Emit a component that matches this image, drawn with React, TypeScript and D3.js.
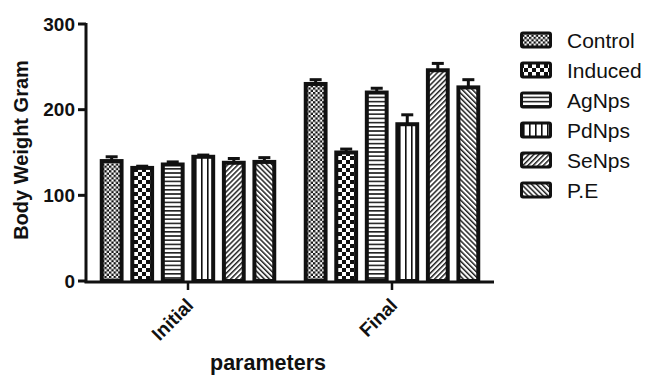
import React from 'react';
import * as d3 from 'd3';

const groups = ['Initial', 'Final'];
const series = ['Control', 'Induced', 'AgNps', 'PdNps', 'SeNps', 'P.E'];
const initialMeans = [140, 132, 136, 145, 138, 139];
const initialErrors = [5, 2, 3, 2, 5, 5];
const finalMeans = [230, 150, 220, 183, 246, 226];
const finalErrors = [5, 4, 5, 11, 8, 9];
const yTicks = [0, 100, 200, 300];
const patternIds = ['pControl', 'pInduced', 'pAg', 'pPd', 'pSe', 'pPE'];

const W = 649;
const H = 376;
const FONT = "'Liberation Sans', Arial, Helvetica, sans-serif";

export default function App() {
  const y = d3.scaleLinear().domain([0, 300]).range([281, 24]);
  const x0 = d3.scaleBand<string>().domain(groups).range([86, 494]);
  const x1 = d3
    .scaleBand<string>()
    .domain(series)
    .range([0, x0.bandwidth()])
    .paddingInner(0.22)
    .paddingOuter(0.45);

  const data = groups.map((g, gi) => ({
    group: g,
    means: gi === 0 ? initialMeans : finalMeans,
    errors: gi === 0 ? initialErrors : finalErrors,
  }));

  const bw = x1.bandwidth();
  const sw = 4;

  return (
    <svg
      width={W}
      height={H}
      style={{ position: 'absolute', left: 0, top: 0, background: '#fff' }}
      fontFamily={FONT}
    >
      <defs>
        <pattern id="pControl" patternUnits="userSpaceOnUse" width={4.6} height={4.6}>
          <rect width={4.6} height={4.6} fill="#fff" />
          <rect width={2.3} height={2.3} fill="#111" />
          <rect x={2.3} y={2.3} width={2.3} height={2.3} fill="#111" />
        </pattern>
        <pattern id="pInduced" patternUnits="userSpaceOnUse" width={8} height={8}>
          <rect width={8} height={8} fill="#fff" />
          <rect width={4} height={4} fill="#111" />
          <rect x={4} y={4} width={4} height={4} fill="#111" />
        </pattern>
        <pattern id="pAg" patternUnits="userSpaceOnUse" width={4} height={4.2}>
          <rect width={4} height={4.2} fill="#fff" />
          <rect y={0} width={4} height={1.6} fill="#222" />
        </pattern>
        <pattern id="pPd" patternUnits="userSpaceOnUse" width={6} height={6}>
          <rect width={6} height={6} fill="#fff" />
          <rect x={1} width={1.6} height={6} fill="#111" />
        </pattern>
        <pattern id="pSe" patternUnits="userSpaceOnUse" width={3.6} height={3.6} patternTransform="rotate(45)">
          <rect width={3.6} height={3.6} fill="#fff" />
          <rect width={1.5} height={3.6} fill="#222" />
        </pattern>
        <pattern id="pPE" patternUnits="userSpaceOnUse" width={3.6} height={3.6} patternTransform="rotate(-45)">
          <rect width={3.6} height={3.6} fill="#fff" />
          <rect width={1.5} height={3.6} fill="#222" />
        </pattern>
      </defs>

      {/* bars */}
      {data.map((d) => (
        <g key={d.group} transform={`translate(${x0(d.group)},0)`}>
          {series.map((s, i) => {
            const bx = (x1(s) as number) + sw / 2;
            const top = y(d.means[i]);
            const errTop = y(d.means[i] + d.errors[i]);
            const cx = (x1(s) as number) + bw / 2;
            return (
              <g key={s}>
                <line x1={cx} x2={cx} y1={top} y2={errTop} stroke="#111" strokeWidth={3} />
                <line x1={cx - 6} x2={cx + 6} y1={errTop} y2={errTop} stroke="#111" strokeWidth={3} />
                <rect
                  x={bx}
                  y={top}
                  width={bw - sw}
                  height={y(0) - top}
                  fill={`url(#${patternIds[i]})`}
                  stroke="#111"
                  strokeWidth={sw}
                />
              </g>
            );
          })}
        </g>
      ))}

      {/* y axis */}
      <line x1={86} x2={86} y1={y(300) - 1} y2={y(0) + 1.5} stroke="#111" strokeWidth={3} />
      {yTicks.map((t) => (
        <g key={t}>
          <line x1={78} x2={86} y1={y(t)} y2={y(t)} stroke="#111" strokeWidth={3} />
          <text
            x={75}
            y={y(t)}
            textAnchor="end"
            dominantBaseline="central"
            fontSize={19}
            fontWeight="bold"
            fill="#111"
          >
            {t}
          </text>
        </g>
      ))}

      {/* x axis */}
      <line x1={84.5} x2={494} y1={y(0) + 1} y2={y(0) + 1} stroke="#111" strokeWidth={3} />
      {groups.map((g) => {
        const cx = (x0(g) as number) + x0.bandwidth() / 2;
        return (
          <g key={g}>
            <line x1={cx} x2={cx} y1={y(0) + 1} y2={y(0) + 9} stroke="#111" strokeWidth={2.5} />
            <text
              transform={`translate(${cx + 2},${y(0) + 21}) rotate(-45)`}
              textAnchor="end"
              dominantBaseline="central"
              fontSize={19}
              fontWeight="bold"
              fill="#111"
            >
              {g}
            </text>
          </g>
        );
      })}

      {/* axis titles */}
      <text
        transform={`translate(21,150) rotate(-90)`}
        textAnchor="middle"
        dominantBaseline="central"
        fontSize={20}
        fontWeight="bold"
        fill="#111"
      >
        Body Weight Gram
      </text>
      <text x={268} y={370} textAnchor="middle" fontSize={21.5} fontWeight="bold" fill="#111">
        parameters
      </text>

      {/* legend */}
      {series.map((s, i) => {
        const ly = 40 + i * 30;
        return (
          <g key={s}>
            <rect
              x={521.5}
              y={ly - 7}
              width={29}
              height={14}
              rx={1.5}
              fill={`url(#${patternIds[i]})`}
              stroke="#111"
              strokeWidth={3}
            />
            <text x={567} y={ly} dominantBaseline="central" fontSize={21} fill="#111">
              {s}
            </text>
          </g>
        );
      })}
    </svg>
  );
}
